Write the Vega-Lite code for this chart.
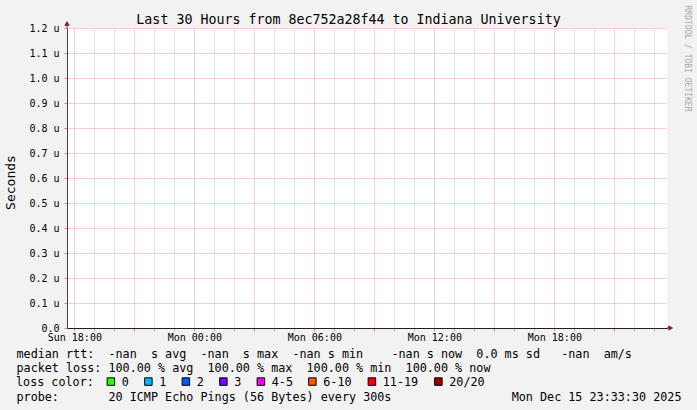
{
  "$schema": "https://vega.github.io/schema/vega-lite/v6.json",
  "width": 600,
  "height": 300,
  "autosize": {"type": "none"},
  "padding": {"left": 67, "top": 28, "right": 30, "bottom": 82},
  "background": "#f2f2f2",
  "config": {
    "font": "DejaVu Sans Mono",
    "view": {"fill": "#ffffff", "stroke": null},
    "axis": {"labelFont": "DejaVu Sans Mono", "titleFont": "DejaVu Sans Mono", "labelColor": "#000000", "titleColor": "#000000", "titleFontWeight": "normal"}
  },
  "layer": [
    {
      "encoding": {
        "x": {
          "field": "time", "type": "temporal",
          "scale": {"type": "utc", "nice": false, "domain": [1765733880000, 1765841880000]},
          "axis": {
            "orient": "bottom",
            "values": [1765735200000, 1765738800000, 1765742400000, 1765746000000, 1765749600000, 1765753200000, 1765756800000, 1765760400000, 1765764000000, 1765767600000, 1765771200000, 1765774800000, 1765778400000, 1765782000000, 1765785600000, 1765789200000, 1765792800000, 1765796400000, 1765800000000, 1765803600000, 1765807200000, 1765810800000, 1765814400000, 1765818000000, 1765821600000, 1765825200000, 1765828800000, 1765832400000, 1765836000000, 1765839600000],
            "labelExpr": "utchours(datum.value) % 6 == 0 ? utcFormat(datum.value, '%a %H:%M') : ''",
            "labelFontSize": 10,
            "labelPadding": 1.5,
            "labelOverlap": false,
            "labelFlush": false,
            "grid": true,
            "gridColor": {"condition": {"test": "utchours(datum.value) % 3 == 0", "value": "#f0a0a0"}, "value": "#c8c8c8"},
            "gridDash": [1, 1],
            "tickColor": {"condition": {"test": "utchours(datum.value) % 3 == 0", "value": "#e88080"}, "value": "#b8b8b8"},
            "tickSize": 3,
            "domainColor": "#1f1f1f",
            "title": [
              "median\u00a0rtt:\u00a0\u00a0-nan\u00a0\u00a0s\u00a0avg\u00a0\u00a0-nan\u00a0\u00a0s\u00a0max\u00a0\u00a0-nan\u00a0s\u00a0min\u00a0\u00a0\u00a0\u00a0-nan\u00a0s\u00a0now\u00a0\u00a00.0\u00a0ms\u00a0sd\u00a0\u00a0\u00a0-nan\u00a0\u00a0am/s",
              "packet\u00a0loss:\u00a0100.00\u00a0%\u00a0avg\u00a0\u00a0100.00\u00a0%\u00a0max\u00a0\u00a0100.00\u00a0%\u00a0min\u00a0\u00a0100.00\u00a0%\u00a0now",
              "\u200b",
              "probe:\u00a0\u00a0\u00a0\u00a0\u00a0\u00a0\u00a020\u00a0ICMP\u00a0Echo\u00a0Pings\u00a0(56\u00a0Bytes)\u00a0every\u00a0300s\u00a0\u00a0\u00a0\u00a0\u00a0\u00a0\u00a0\u00a0\u00a0\u00a0\u00a0\u00a0\u00a0\u00a0\u00a0\u00a0\u00a0Mon\u00a0Dec\u00a015\u00a023:33:30\u00a02025"
            ],
            "titleFontSize": 11.75,
            "titleLineHeight": 14.3,
            "titleAlign": "left",
            "titleBaseline": "alphabetic",
            "titleX": -51,
            "titleY": 29.5
          }
        },
        "y": {
          "field": "rtt", "type": "quantitative",
          "scale": {"domain": [0, 1.2], "nice": false, "zero": false},
          "axis": {
            "orient": "left",
            "values": [0, 0.1, 0.2, 0.3, 0.4, 0.5, 0.6, 0.7, 0.8, 0.9, 1.0, 1.1, 1.2],
            "labelExpr": "datum.value == 0 ? '0.0\u00a0\u00a0' : format(datum.value, '.1f') + '\u00a0u'",
            "labelFontSize": 10,
            "labelPadding": 5,
            "labelOverlap": false,
            "grid": true,
            "gridColor": "#f0a0a0",
            "gridDash": [1, 1],
            "tickColor": "#e88080",
            "tickSize": 3,
            "domainColor": "#444444",
            "title": "Seconds",
            "titleFontSize": 13,
            "titleAngle": -90,
            "titleAlign": "center",
            "titleBaseline": "middle",
            "titleX": -57,
            "titleY": 154
          }
        }
      },
      "layer": [
        {
          "data": {"values": [
            {"loss": "0"}, {"loss": "1"}, {"loss": "2"}, {"loss": "3"},
            {"loss": "4-5"}, {"loss": "6-10"}, {"loss": "11-19"}, {"loss": "20/20"}
          ]},
          "mark": {"type": "square", "opacity": 0},
          "encoding": {
            "color": {
              "field": "loss", "type": "nominal",
              "scale": {
                "domain": ["0", "1", "2", "3", "4-5", "6-10", "11-19", "20/20"],
                "range": ["#26ff00", "#00b8ff", "#0059ff", "#7e00ff", "#ff00ff", "#ff5500", "#ff0000", "#a10000"]
              },
              "legend": {
                "orient": "none",
                "legendX": -51,
                "legendY": 347.5,
                "direction": "horizontal",
                "title": "loss color:",
                "titleOrient": "left",
                "titleFont": "DejaVu Sans Mono",
                "titleFontSize": 11.75,
                "titleFontWeight": "normal",
                "titleColor": "#000000",
                "titlePadding": 11,
                "labelFont": "DejaVu Sans Mono",
                "labelFontSize": 11.75,
                "labelColor": "#000000",
                "labelOffset": 5,
                "symbolType": "square",
                "symbolSize": 56,
                "symbolStrokeColor": "#000000",
                "symbolStrokeWidth": 1,
                "symbolOpacity": 1,
                "columnPadding": 13.5,
                "padding": 0
              }
            }
          }
        },
        {
          "data": {"values": [{"time": 1765733880000, "rtt": 1.2, "rtt2": 1.212}]},
          "mark": {"type": "rule", "color": "#444444", "strokeWidth": 1},
          "encoding": {"y2": {"field": "rtt2"}}
        },
        {
          "data": {"values": [{"time": 1765841880000, "time2": 1765842360000, "rtt": 0}]},
          "mark": {"type": "rule", "color": "#1f1f1f", "strokeWidth": 1},
          "encoding": {"x2": {"field": "time2"}}
        },
        {
          "data": {"values": [{"time": 1765733880000, "rtt": 1.2184}]},
          "mark": {"type": "point", "shape": "triangle-up", "filled": true, "color": "#801f1f", "size": 32, "opacity": 1},
          "encoding": {}
        },
        {
          "data": {"values": [{"time": 1765842570000, "rtt": 0}]},
          "mark": {"type": "point", "shape": "triangle-right", "filled": true, "color": "#801f1f", "size": 32, "opacity": 1},
          "encoding": {}
        }
      ]
    },
    {
      "data": {"values": [{"w": 0}]},
      "mark": {"type": "point", "opacity": 0},
      "encoding": {
        "x": {
          "field": "w", "type": "quantitative",
          "axis": {
            "orient": "top", "labels": false, "ticks": false, "domain": false, "grid": false,
            "title": "Last\u00a030\u00a0Hours\u00a0from\u00a08ec752a28f44\u00a0to\u00a0Indiana\u00a0University",
            "titleFontSize": 13.3,
            "titleAlign": "center",
            "titleBaseline": "alphabetic",
            "titleX": 281,
            "titleY": -5
          }
        },
        "y": {
          "field": "w", "type": "quantitative",
          "axis": {
            "orient": "right", "labels": false, "ticks": false, "domain": false, "grid": false,
            "title": "RRDTOOL\u00a0/\u00a0TOBI\u00a0OETIKER",
            "titleFontSize": 8,
            "titleColor": "#a8a8a8",
            "titleAngle": 90,
            "titleAlign": "left",
            "titleBaseline": "middle",
            "titleX": 19,
            "titleY": -23
          }
        }
      }
    }
  ],
  "resolve": {"scale": {"x": "independent", "y": "independent"}}
}
